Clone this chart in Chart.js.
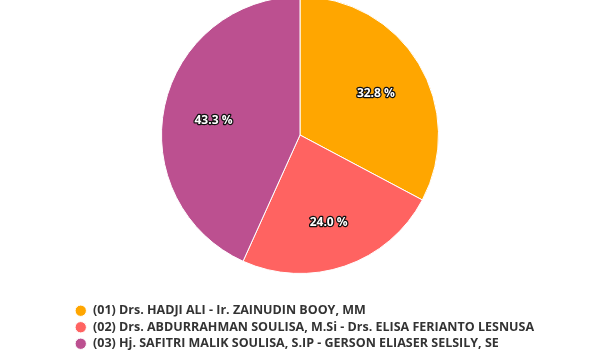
<!DOCTYPE html>
<html>
<head>
<meta charset="utf-8">
<script src="https://cdn.jsdelivr.net/npm/chart.js@4.4.1/dist/chart.umd.min.js"></script>
<style>
  html, body { margin: 0; padding: 0; background: #fff; overflow: hidden; }
  #wrap { position: absolute; left: 0; top: -4px; width: 600px; height: 364px; }
</style>
</head>
<body>
<div id="wrap"><canvas id="pie"></canvas></div>
<script>
// data
var labels = [
    "(01) Drs. HADJI ALI - Ir. ZAINUDIN BOOY, MM",
    "(02) Drs. ABDURRAHMAN SOULISA, M.Si - Drs. ELISA FERIANTO LESNUSA",
    "(03) Hj. SAFITRI MALIK SOULISA, S.IP - GERSON ELIASER SELSILY, SE"
];
var values = [32.8, 24.0, 43.3];
var colors = ['#ffa600', '#ff6361', '#bc5090'];

var fontFam = "'Open Sans', 'DejaVu Sans', sans-serif";

// percent labels inside slices (outerRadius - 50, bit lower like the original)
var sliceLabels = {
    id: 'sliceLabels',
    afterDatasetsDraw: function(chart) {
        var ctx = chart.ctx;
        var meta = chart.getDatasetMeta(0);
        ctx.save();
        ctx.font = 'bold 12px ' + fontFam;
        ctx.textAlign = 'center';
        ctx.textBaseline = 'middle';
        ctx.lineJoin = 'round';
        meta.data.forEach(function(arc, i) {
            var p = arc.getProps(['x', 'y', 'startAngle', 'endAngle', 'outerRadius'], true);
            var mid = (p.startAngle + p.endAngle) / 2;
            var d = p.outerRadius - 50;
            var x = p.x + Math.cos(mid) * d;
            var y = p.y + Math.sin(mid) * d + 4;
            var txt = values[i].toFixed(1) + ' %';
            ctx.lineWidth = 2.5;
            ctx.strokeStyle = '#111';
            ctx.strokeText(txt, x, y);
            ctx.fillStyle = '#fff';
            ctx.fillText(txt, x, y);
        });
        ctx.restore();
    }
};

// legend box is clipped by chart.js, let the long line run past the right padding
var wideLegend = {
    id: 'wideLegend',
    afterLayout: function(chart) {
        if (chart.legend) {
            chart.legend.right = chart.width;
        }
    }
};

var ctx1 = document.getElementById('pie').getContext('2d');
var myChart = new Chart(ctx1, {
    type: 'pie',
    data: {
        labels: labels,
        datasets: [{
            data: values,
            backgroundColor: colors,
            borderColor: '#ffffff',
            borderWidth: 1
        }]
    },
    options: {
        responsive: true,
        maintainAspectRatio: false,
        animation: false,
        layout: { padding: { left: 70.75, right: 70.75, top: 0, bottom: 0 } },
        plugins: {
            tooltip: { enabled: false },
            legend: {
                position: 'bottom',
                align: 'start',
                title: { display: true, text: ' ', padding: 6.65, font: { size: 11 } },
                labels: {
                    usePointStyle: true,
                    pointStyle: 'circle',
                    boxWidth: 12,
                    boxHeight: 8,
                    padding: 4,
                    color: '#333333',
                    font: { family: fontFam, size: 12.5, weight: 'bold' }
                }
            }
        }
    },
    plugins: [sliceLabels, wideLegend]
});
</script>
</body>
</html>
